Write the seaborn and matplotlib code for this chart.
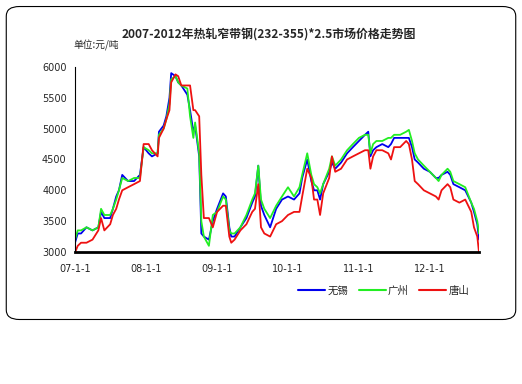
import numpy as np
import pandas as pd
import matplotlib
matplotlib.use("Agg")
import matplotlib.pyplot as plt
from matplotlib.patches import FancyBboxPatch
import seaborn as sns

# price samples (yuan / ton)
dates = [
    "2007-01-01", "2007-01-15", "2007-02-01", "2007-03-01", "2007-04-01", "2007-05-01",
    "2007-05-15", "2007-06-01", "2007-07-01", "2007-07-15", "2007-08-01", "2007-08-15",
    "2007-09-01", "2007-10-01", "2007-11-01", "2007-12-01", "2007-12-20", "2008-01-15",
    "2008-02-01", "2008-03-01", "2008-03-08", "2008-04-01", "2008-04-15", "2008-05-01",
    "2008-05-10", "2008-06-01", "2008-06-15", "2008-07-01", "2008-08-01", "2008-08-15",
    "2008-09-01", "2008-09-10", "2008-10-01", "2008-10-12", "2008-10-25", "2008-11-20",
    "2008-12-10", "2009-01-01", "2009-02-01", "2009-02-15", "2009-03-05", "2009-03-15",
    "2009-04-01", "2009-05-01", "2009-06-01", "2009-07-01", "2009-07-15", "2009-08-01",
    "2009-08-15", "2009-09-01", "2009-10-01", "2009-11-01", "2009-12-01", "2010-01-01",
    "2010-02-01", "2010-03-01", "2010-03-15", "2010-04-10", "2010-05-01", "2010-05-15",
    "2010-06-01", "2010-06-15", "2010-07-01", "2010-08-01", "2010-08-15", "2010-09-01",
    "2010-10-01", "2010-11-01", "2010-12-01", "2011-01-01", "2011-02-01", "2011-02-18",
    "2011-03-01", "2011-03-15", "2011-04-01", "2011-05-01", "2011-06-01", "2011-06-15",
    "2011-07-01", "2011-08-01", "2011-09-01", "2011-09-15", "2011-10-01", "2011-10-15",
    "2011-11-01", "2011-12-01", "2012-01-01", "2012-02-01", "2012-02-15", "2012-03-01",
    "2012-04-01", "2012-04-15", "2012-05-01", "2012-06-01", "2012-07-01", "2012-08-01",
    "2012-08-15", "2012-09-01", "2012-09-10",
]
wuxi = [
    3150, 3300, 3300, 3400, 3350, 3400, 3650, 3550, 3550, 3700, 3900, 4000,
    4250, 4150, 4150, 4250, 4700, 4600, 4550, 4600, 4950, 5050, 5200, 5500,
    5900, 5850, 5750, 5700, 5550, 5300, 4950, 5050, 4550, 3300, 3250, 3200,
    3500, 3700, 3950, 3900, 3400, 3250, 3250, 3400, 3550, 3800, 3900, 4400,
    3750, 3600, 3400, 3700, 3850, 3900, 3850, 3950, 4200, 4500, 4150, 4000,
    4000, 3850, 4100, 4300, 4450, 4350, 4450, 4600, 4700, 4800, 4900, 4950,
    4550, 4650, 4700, 4750, 4700, 4750, 4850, 4850, 4850, 4850, 4700, 4500,
    4450, 4350, 4300, 4200, 4200, 4250, 4300, 4250, 4100, 4050, 4000, 3800,
    3650, 3450, 3200,
]
guangzhou = [
    3200, 3350, 3350, 3400, 3350, 3400, 3700, 3600, 3600, 3700, 3850, 4000,
    4200, 4150, 4200, 4200, 4700, 4650, 4600, 4600, 4900, 5000, 5150, 5400,
    5800, 5850, 5750, 5700, 5650, 5200, 4850, 5100, 4600, 3500, 3250, 3100,
    3600, 3650, 3900, 3850, 3350, 3300, 3300, 3400, 3600, 3850, 3950, 4400,
    3850, 3700, 3550, 3750, 3900, 4050, 3900, 4050, 4250, 4600, 4250, 4100,
    4050, 3950, 4100, 4350, 4550, 4400, 4500, 4650, 4750, 4850, 4900, 4900,
    4600, 4750, 4800, 4800, 4850, 4850, 4900, 4900, 4950, 4980, 4800, 4600,
    4500, 4400, 4300, 4200, 4150, 4250, 4350, 4300, 4150, 4100, 4050, 3800,
    3700, 3500, 3300,
]
tangshan = [
    2990, 3100, 3150, 3150, 3200, 3350, 3550, 3350, 3450, 3600, 3700, 3850,
    4000, 4050, 4100, 4150, 4750, 4750, 4650, 4550, 4850, 5000, 5150, 5300,
    5750, 5880, 5850, 5700, 5700, 5700, 5300, 5300, 5200, 4250, 3550, 3550,
    3400, 3650, 3750, 3750, 3250, 3150, 3200, 3350, 3450, 3650, 3700, 4100,
    3400, 3300, 3250, 3450, 3500, 3600, 3650, 3650, 3900, 4350, 4200, 3850,
    3850, 3600, 3950, 4200, 4550, 4300, 4350, 4500, 4550, 4600, 4650, 4650,
    4350, 4550, 4650, 4650, 4600, 4500, 4700, 4700, 4800, 4750, 4500, 4150,
    4100, 4000, 3950, 3900, 3850, 4000, 4100, 4050, 3850, 3800, 3850, 3650,
    3400, 3250, 2990,
]
cities = ["无锡", "广州", "唐山"]
city_colors = ["#0000EE", "#22EE22", "#EE1111"]
tick_dates = ["2007-01-01", "2008-01-01", "2009-01-01", "2010-01-01", "2011-01-01", "2012-01-01"]
tick_labels = ["07-1-1", "08-1-1", "09-1-1", "10-1-1", "11-1-1", "12-1-1"]
y_ticks = [3000, 3500, 4000, 4500, 5000, 5500, 6000]

df = pd.DataFrame({
    "date": pd.to_datetime(dates * 3),
    "price": wuxi + guangzhou + tangshan,
    "city": np.repeat(cities, len(dates)),
})

sns.set_style("white")
plt.rcParams["font.family"] = ["Noto Sans CJK SC", "DejaVu Sans"]

fig = plt.figure(figsize=(5.22, 3.84), dpi=100)
ax = fig.add_axes([0.1437, 0.3438, 0.774, 0.4818])

sns.lineplot(data=df, x="date", y="price", hue="city", hue_order=cities,
             palette=city_colors, linewidth=1.3, ax=ax, legend=False)

ax.set_xlim(pd.Timestamp(dates[0]), pd.Timestamp(dates[-1]))
ax.set_ylim(3000, 6000)
ax.set_xticks(pd.to_datetime(tick_dates))
ax.set_xticklabels(tick_labels, fontsize=7, family="DejaVu Sans")
ax.set_yticks(y_ticks)
ax.set_yticklabels([str(v) for v in y_ticks], fontsize=7, family="DejaVu Sans")
ax.set_xlabel("")
ax.set_ylabel("")
for side in ["top", "right"]:
    ax.spines[side].set_visible(False)
ax.spines["left"].set_color("black")
ax.spines["left"].set_linewidth(0.8)
ax.spines["bottom"].set_color("black")
ax.spines["bottom"].set_linewidth(2)
ax.tick_params(axis="y", direction="out", length=3, width=0.8, pad=3)
ax.tick_params(axis="x", direction="out", length=3, width=0.8, pad=6)

fig.text(0.515, 0.912, "2007-2012年热轧窄带钢(232-355)*2.5市场价格走势图",
         ha="center", va="center", fontsize=8.6, fontweight="bold")
fig.text(0.14, 0.882, "单位:元/吨", ha="left", va="center", fontsize=7)

handles = [plt.Line2D([], [], color=c, linewidth=1.5) for c in city_colors]
fig.legend(handles, cities, loc="center", bbox_to_anchor=(0.735, 0.243), ncol=3,
           frameon=False, fontsize=7.5, handlelength=2.6, handletextpad=0.2,
           columnspacing=1.0)

# rounded frame around the chart
frame = FancyBboxPatch((0.012, 0.168), 0.976, 0.815,
                       boxstyle="round,pad=0,rounding_size=0.025",
                       transform=fig.transFigure, facecolor="none",
                       edgecolor="black", linewidth=0.8)
fig.patches.append(frame)

fig.savefig("out.png", dpi=100)
